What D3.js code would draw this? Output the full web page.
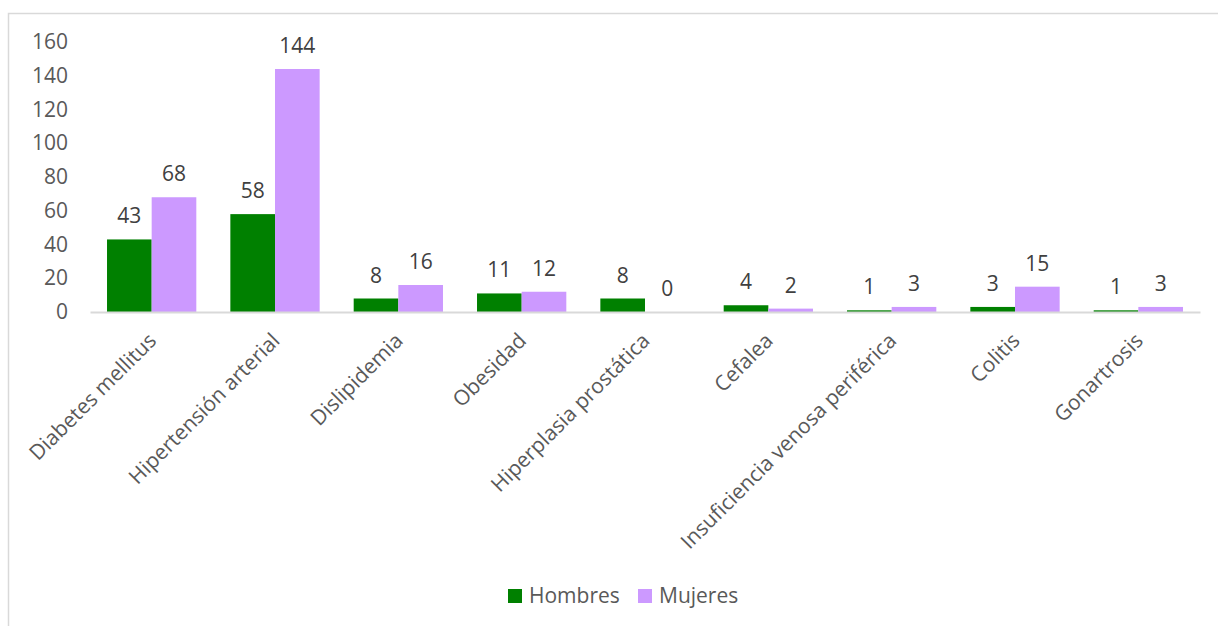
<!DOCTYPE html>
<html><head><meta charset="utf-8">
<script src="https://cdn.jsdelivr.net/npm/d3@7"></script>
<style>body{margin:0;background:#fff;}svg{display:block;font-family:"Open Sans",sans-serif;}</style>
</head><body><svg id="c" width="1218" height="626"></svg>
<script>
const categories = ["Diabetes mellitus","Hipertensión arterial","Dislipidemia","Obesidad","Hiperplasia prostática","Cefalea","Insuficiencia venosa periférica","Colitis","Gonartrosis"];
const seriesNames = ["Hombres","Mujeres"];
const hombres = [43,58,8,11,8,4,1,3,1];
const mujeres = [68,144,16,12,0,2,3,15,3];
const yTicks = [0,20,40,60,80,100,120,140,160];
const colors = ["#008000","#CC99FF"];

const svg = d3.select("#c");
const W = 1218, H = 626;
const FS = 21;
// outer frame
svg.append("rect").attr("x",8.5).attr("y",13.5).attr("width",W+20).attr("height",H+20)
  .attr("fill","none").attr("stroke","#d9d9d9").attr("stroke-width",1.5);

const m = {left:90, right:1200, top:42, bottom:312};
const x0 = d3.scaleBand().domain(categories).range([m.left,m.right]).paddingInner(0.276).paddingOuter(0.138);
const x1 = d3.scaleBand().domain(seriesNames).range([0,x0.bandwidth()]);
const y = d3.scaleLinear().domain([0,160]).range([m.bottom,m.top]);

// y axis labels
const yAxis = d3.axisLeft(y).tickValues(yTicks).tickSize(0).tickPadding(0);
const ya = svg.append("g").attr("transform",`translate(${m.left-22},0)`).call(yAxis);
ya.select(".domain").remove();
ya.selectAll("text").attr("font-size",FS).attr("fill","#595959").attr("font-family","Open Sans");

const data = categories.map((c,i)=>({c, vals:[hombres[i],mujeres[i]]}));
const g = svg.append("g");
const groups = g.selectAll("g.grp").data(data).join("g").attr("transform",d=>`translate(${x0(d.c)},0)`);
groups.selectAll("rect").data(d=>d.vals.map((v,j)=>({v,s:seriesNames[j],j})))
  .join("rect")
  .attr("x",d=>x1(d.s)).attr("width",x1.bandwidth())
  .attr("y",d=>y(d.v)).attr("height",d=>m.bottom-y(d.v))
  .attr("fill",d=>colors[d.j]);
groups.selectAll("text").data(d=>d.vals.map((v,j)=>({v,s:seriesNames[j]})))
  .join("text")
  .attr("x",d=>x1(d.s)+x1.bandwidth()/2).attr("y",d=>y(d.v)-16)
  .attr("text-anchor","middle").attr("font-size",FS).attr("fill","#404040")
  .text(d=>d.v);

// x axis
const xAxis = d3.axisBottom(x0).tickSize(0).tickPadding(0);
const xa = svg.append("g").attr("transform",`translate(0,${m.bottom})`).call(xAxis);
xa.select(".domain").attr("stroke","#d9d9d9").attr("stroke-width",2);
xa.selectAll("text").attr("font-size",FS).attr("fill","#595959").attr("font-family","Open Sans")
  .attr("text-anchor","end").attr("dy",null).attr("y",0)
  .attr("transform","translate(6,30) rotate(-45)");

// legend
const leg = svg.append("g").attr("transform","translate(508,596)");
const lx = [0,130];
seriesNames.forEach((s,i)=>{
  leg.append("rect").attr("x",lx[i]).attr("y",-7).attr("width",14).attr("height",14).attr("fill",colors[i]);
  leg.append("text").attr("x",lx[i]+21).attr("y",0).attr("dy","0.35em").attr("font-size",FS).attr("fill","#595959").text(s);
});
</script></body></html>
